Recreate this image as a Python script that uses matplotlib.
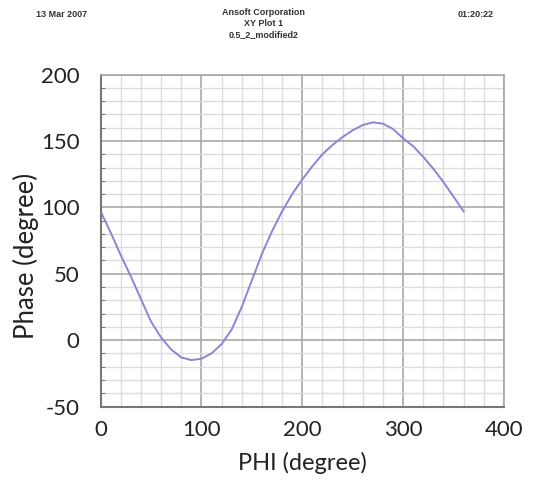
import matplotlib
matplotlib.use("Agg")
import matplotlib.pyplot as plt
from matplotlib.ticker import MultipleLocator

phi = [0, 10, 20, 30, 40, 50, 60, 70, 80, 90, 100, 110, 120, 130, 140, 150, 160, 170, 180,
       190, 200, 210, 220, 230, 240, 250, 260, 270, 280, 290, 300, 310, 320, 330, 340, 350, 360]
phase = [97, 81, 64, 48, 31, 14, 2, -7, -13, -15, -14, -10, -3, 8, 25, 45, 65, 82, 97,
         110, 121, 131, 140, 147, 153, 158, 162, 164, 163, 159, 152, 146, 138, 129, 119, 108, 97]

xticks = [0, 100, 200, 300, 400]
yticks = [-50, 0, 50, 100, 150, 200]

header_left = "13 Mar 2007"
header_center = "Ansoft Corporation\nXY Plot 1\n0.5_2_modified2"
header_right = "01:20:22"

plt.rcParams["axes.unicode_minus"] = False

tfam = ["Lato", "DejaVu Sans"]

fig = plt.figure(figsize=(5.35, 4.84), dpi=100)
ax = fig.add_axes([0.188, 0.160, 0.754, 0.686])

hfont = dict(family=["Liberation Sans Narrow", "Liberation Sans", "DejaVu Sans"],
             fontsize=6.5, fontweight="bold", color="#333333")
fig.text(0.068, 0.970, header_left, ha="left", va="center", **hfont)
fig.text(0.493, 0.983, header_center, ha="center", va="top", linespacing=1.25, **hfont)
fig.text(0.922, 0.970, header_right, ha="right", va="center", **hfont)

ax.plot(phi, phase, color="#8a86d6", lw=1.4)

ax.set_xlim(0, 400)
ax.set_ylim(-50, 200)
ax.set_xticks(xticks)
ax.set_yticks(yticks)
ax.xaxis.set_minor_locator(MultipleLocator(20))
ax.yaxis.set_minor_locator(MultipleLocator(10))
ax.grid(which="major", color="#a8a8a8", lw=1.2)
ax.grid(which="minor", color="#dcdcdc", lw=1.0)
ax.set_axisbelow(True)

ax.tick_params(which="both", length=0, labelsize=16, colors="#222222")
ax.tick_params(axis="x", which="major", pad=10)
ax.tick_params(axis="y", which="major", pad=15)
ax.tick_params(axis="y", which="minor", direction="in", length=3, left=True, color="#666666")
for lab in ax.get_xticklabels() + ax.get_yticklabels():
    lab.set_fontfamily(tfam)

ax.set_xlabel("PHI (degree)", fontsize=17, family=tfam, color="#222222", labelpad=8)
ax.set_ylabel("Phase (degree)", fontsize=18.5, family=tfam, color="#222222")
ax.yaxis.set_label_coords(-0.152, 0.455)

for side in ["top", "right"]:
    ax.spines[side].set_color("#a8a8a8")
    ax.spines[side].set_linewidth(1.2)
for side in ["left", "bottom"]:
    ax.spines[side].set_color("#777777")
    ax.spines[side].set_linewidth(1.5)

fig.savefig("out.png", dpi=100, facecolor="white")
